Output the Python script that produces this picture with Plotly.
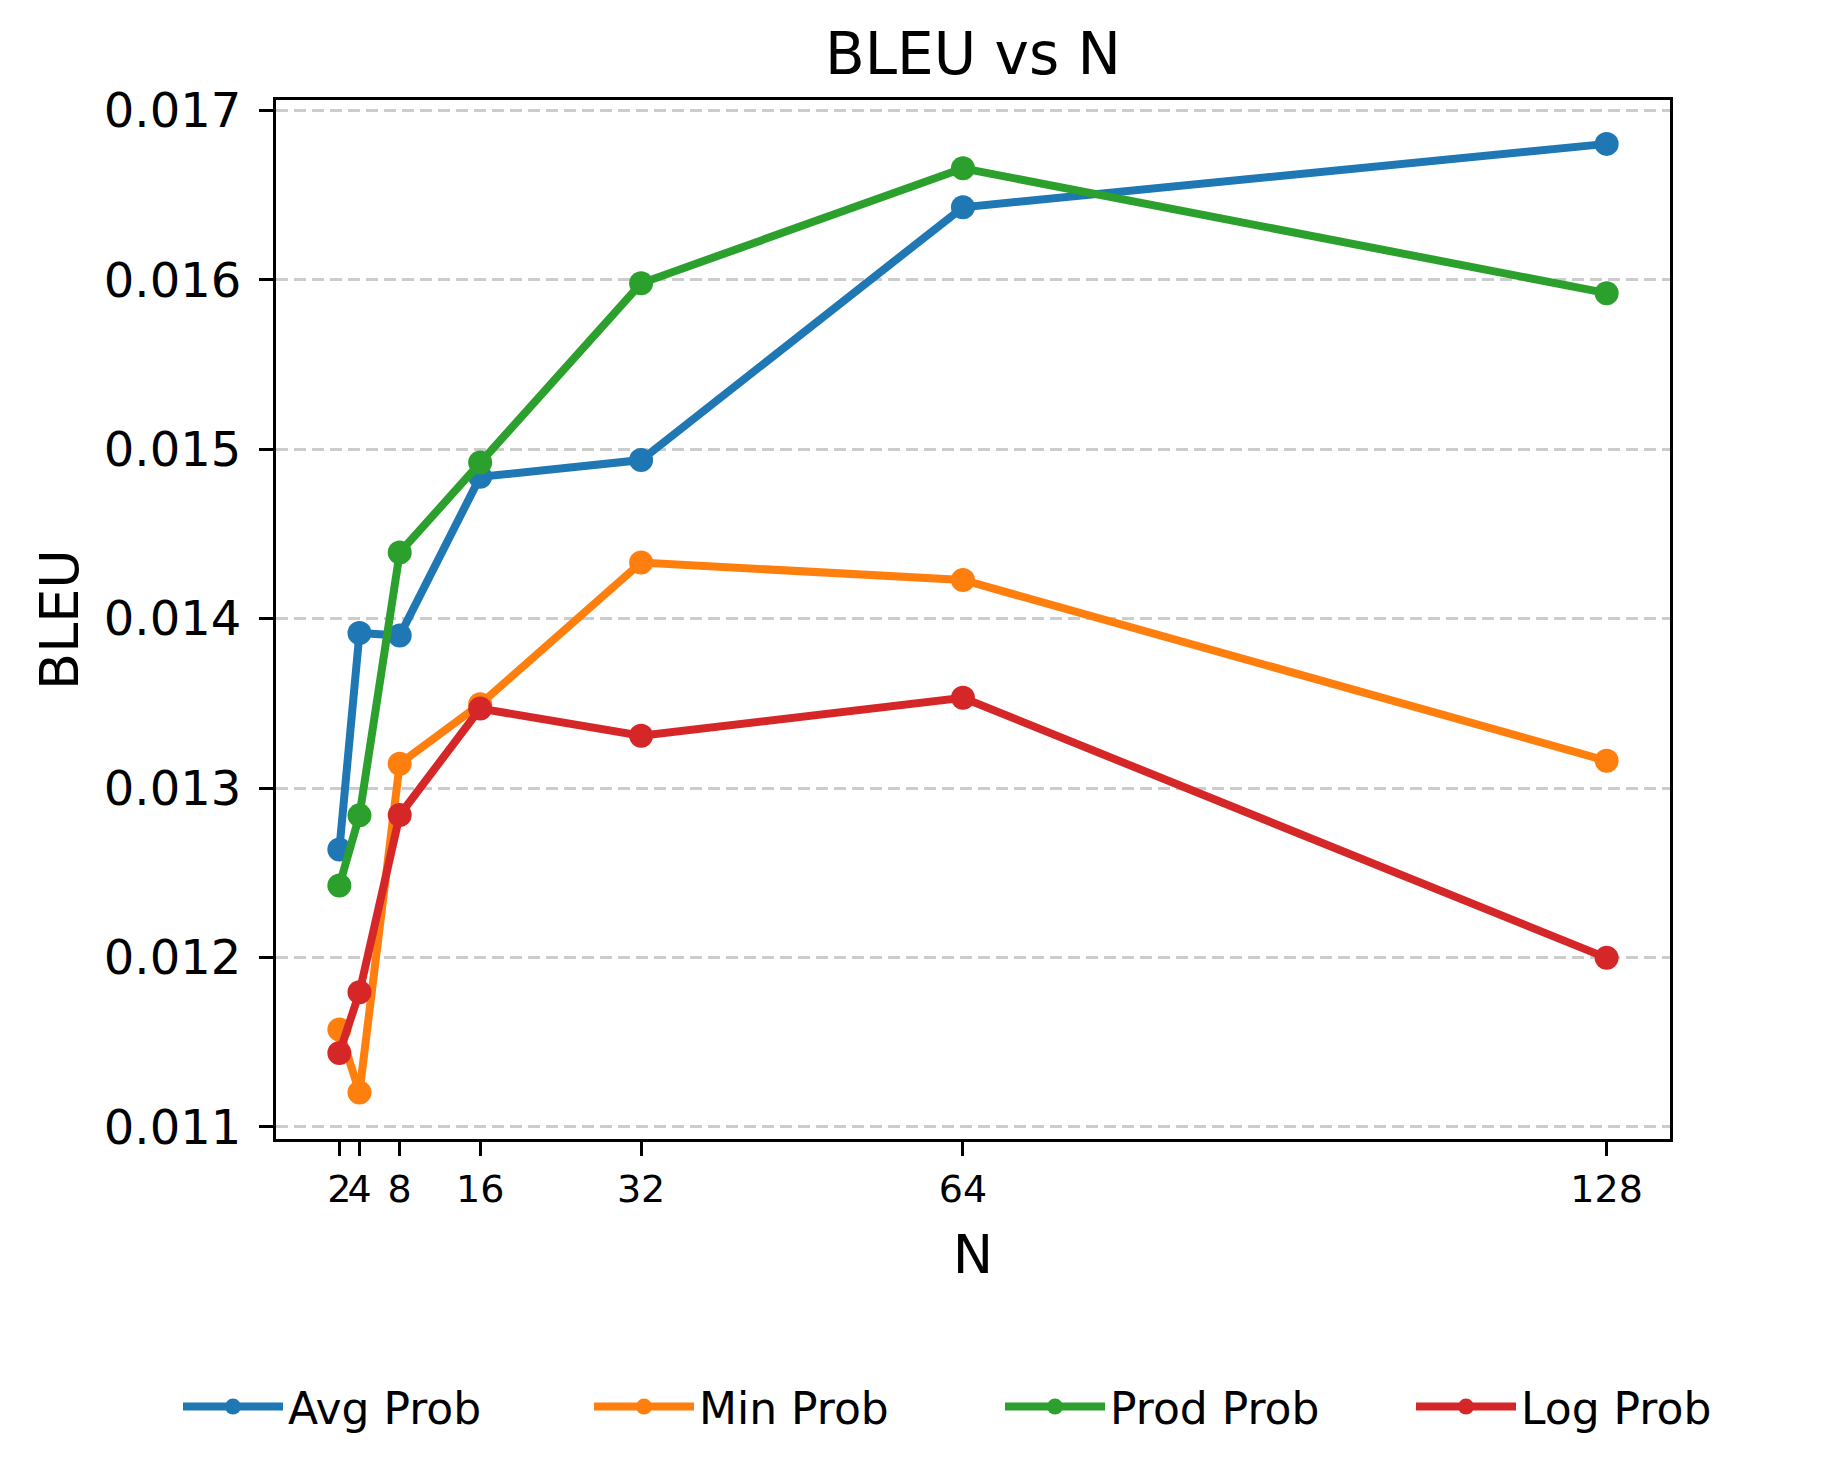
import plotly.graph_objects as go

N_values = [2, 4, 8, 16, 32, 64, 128]
avg_prob = [0.012638, 0.013916, 0.013900, 0.014837, 0.014936, 0.016428, 0.016802]
min_prob = [0.011575, 0.011204, 0.013144, 0.013495, 0.014331, 0.014228, 0.013161]
prod_prob = [0.012425, 0.012839, 0.014390, 0.014922, 0.015979, 0.016658, 0.015921]
log_prob = [0.011437, 0.011795, 0.012841, 0.013469, 0.013309, 0.013533, 0.011998]

series_names = ["Avg Prob", "Min Prob", "Prod Prob", "Log Prob"]
series_values = [avg_prob, min_prob, prod_prob, log_prob]
colors = ["#1f77b4", "#ff7f0e", "#2ca02c", "#d62728"]

y_ticks = [0.011, 0.012, 0.013, 0.014, 0.015, 0.016, 0.017]

FONT = "DejaVu Sans"

fig = go.Figure()
for name, vals, col in zip(series_names, series_values, colors):
    fig.add_trace(go.Scatter(
        x=N_values, y=vals, name=name, mode="lines+markers",
        line=dict(color=col, width=8),
        marker=dict(color=col, size=24),
    ))

L, R, T, B = 268, 162, 92, 350
plot_h = 1481 - T - B

fig.update_layout(
    width=1824, height=1481,
    margin=dict(l=L, r=R, t=T, b=B),
    paper_bgcolor="white", plot_bgcolor="white",
    font=dict(family=FONT, color="black"),
    title=dict(text="BLEU vs N", x=0.5, xref="paper", xanchor="center",
               y=1 - 46 / 1481, yanchor="middle", font=dict(size=58, family=FONT)),
    showlegend=True,
    legend=dict(orientation="h", xref="paper", yref="paper",
                x=(170 - L) / 1394, xanchor="left",
                y=((1481 - B) - 1399) / plot_h, yanchor="middle",
                font=dict(size=44, family=FONT), itemwidth=100,
                entrywidth=296, entrywidthmode="pixels", traceorder="normal",
                bgcolor="rgba(0,0,0,0)"),
)

fig.update_xaxes(
    range=[-4.3, 134.3], tickmode="array", tickvals=N_values,
    ticktext=[str(v) for v in N_values], tickangle=0,
    showgrid=False, zeroline=False,
    showline=True, linecolor="black", linewidth=3.3, mirror=True,
    ticks="outside", ticklen=14, tickwidth=3.3, tickcolor="black",
    tickfont=dict(size=38, family=FONT), ticklabelstandoff=0,
    title=dict(text="N", font=dict(size=54, family=FONT), standoff=26),
)
fig.update_yaxes(
    range=[0.010929, 0.017061], tickmode="array", tickvals=y_ticks,
    ticktext=[f"{v:.3f}" for v in y_ticks],
    showgrid=True, gridcolor="rgb(204,204,204)", gridwidth=3, griddash="12px,6px",
    zeroline=False,
    showline=True, linecolor="black", linewidth=3.3, mirror=True,
    ticks="outside", ticklen=14, tickwidth=3.3, tickcolor="black",
    tickfont=dict(size=48, family=FONT), ticklabelstandoff=8,
    title=dict(text="BLEU", font=dict(size=54, family=FONT), standoff=8),
)

fig.write_html("out.html")
